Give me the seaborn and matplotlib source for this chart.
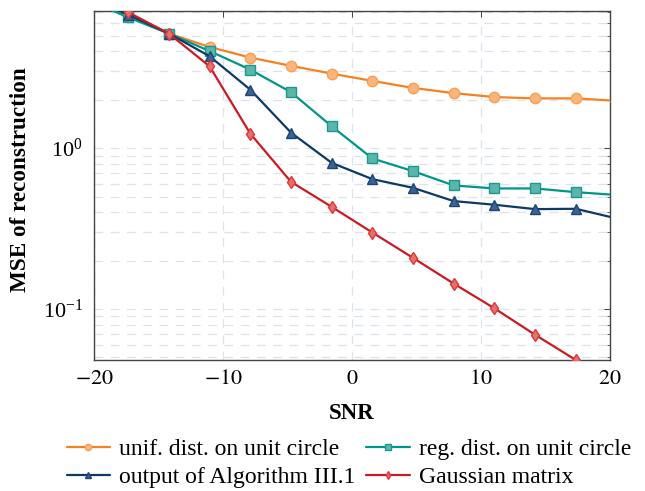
import numpy as np
import pandas as pd
import matplotlib
matplotlib.use("Agg")
import matplotlib.pyplot as plt
import matplotlib.ticker as mticker
import seaborn as sns

# ---- data ----
snr = [-20.5, -17.35, -14.19, -11.04, -7.88, -4.73, -1.58, 1.58, 4.73, 7.88, 11.04, 14.19, 17.35, 20.5]
unif_circle = [8.6, 6.7, 5.16, 4.26, 3.66, 3.25, 2.91, 2.62, 2.37, 2.20, 2.08, 2.04, 2.04, 1.97]
reg_circle = [8.4, 6.5, 5.16, 4.02, 3.08, 2.23, 1.37, 0.863, 0.72, 0.587, 0.562, 0.562, 0.533, 0.512]
algo_out = [8.6, 6.77, 5.16, 3.73, 2.31, 1.25, 0.811, 0.642, 0.567, 0.469, 0.445, 0.418, 0.420, 0.366]
gauss = [9.5, 7.0, 5.16, 3.23, 1.23, 0.618, 0.432, 0.299, 0.208, 0.144, 0.101, 0.0692, 0.0482, 0.033]
labels = ["unif. dist. on unit circle", "reg. dist. on unit circle",
          "output of Algorithm III.1", "Gaussian matrix"]
x_ticks = [-20, -10, 0, 10, 20]

df = pd.DataFrame({
    "SNR": snr * 4,
    "MSE": unif_circle + reg_circle + algo_out + gauss,
    "method": [lab for lab in labels for _ in snr],
})

styles = {
    labels[0]: dict(color="#F5821F", marker="o", mfc="#FBB57A", mec="#F5A05A", ms=7.5),
    labels[1]: dict(color="#00968A", marker="s", mfc="#5BB5AA", mec="#1A9A8C", ms=7),
    labels[2]: dict(color="#0D3A66", marker="^", mfc="#3B6391", mec="#1D4676", ms=7),
    labels[3]: dict(color="#CC1A24", marker="d", mfc="#E8706A", mec="#D83A3A", ms=6.5),
}

sns.set_style("white")
plt.rcParams["font.family"] = ["Liberation Serif", "DejaVu Serif"]
plt.rcParams["mathtext.fontset"] = "stix"
plt.rcParams["text.color"] = "black"
plt.rcParams["axes.labelcolor"] = "black"

fig = plt.figure(figsize=(6.45, 4.91), dpi=100)
ax = fig.add_axes([94 / 645, 1 - 360 / 491, 516 / 645, 349 / 491])

for lab in labels:
    st = styles[lab]
    sub = df[df["method"] == lab]
    sns.lineplot(data=sub, x="SNR", y="MSE", ax=ax, color=st["color"], lw=1.6,
                 marker=st["marker"], markerfacecolor=st["mfc"],
                 markeredgecolor=st["mec"], markeredgewidth=1.0,
                 markersize=st["ms"], label=lab, legend=False, zorder=3)

ax.set_yscale("log")
ax.set_xlim(-20, 20)
ax.set_ylim(0.0482, 7.13)
ax.set_xticks(x_ticks)
ax.xaxis.set_major_formatter(mticker.FuncFormatter(lambda v, p: f"${v:g}$"))
ax.yaxis.set_major_locator(mticker.LogLocator(base=10, numticks=10))
ax.yaxis.set_minor_locator(mticker.LogLocator(base=10, subs=np.arange(2, 10), numticks=20))
ax.yaxis.set_minor_formatter(mticker.NullFormatter())

gcol = "#DCE2EE"
ax.grid(True, which="major", axis="both", color=gcol, lw=0.9, ls=(0, (7, 6)), zorder=0)
ax.grid(True, which="minor", axis="y", color=gcol, lw=0.9, ls=(0, (7, 6)), zorder=0)
ax.set_axisbelow(True)

for sp in ax.spines.values():
    sp.set_color("#444444")
    sp.set_linewidth(1.0)

ax.tick_params(axis="both", which="both", direction="in", top=True, right=True,
               colors="#444444", labelcolor="black", labelsize=16)
ax.tick_params(which="major", length=4, width=0.7)
ax.tick_params(which="minor", length=2.2, width=0.6)
ax.tick_params(axis="x", which="major", pad=7)
ax.tick_params(axis="y", which="major", pad=8)

ax.set_xlabel("SNR", fontsize=16.5, fontweight="bold", color="black")
ax.set_ylabel("MSE of reconstruction", fontsize=16.7, fontweight="bold", color="black")
ax.xaxis.set_label_coords(0.5, -0.122)
ax.yaxis.set_label_coords(-0.122, 0.516)

handles, lbls = ax.get_legend_handles_labels()
order = [0, 2, 1, 3]
fig.legend([handles[i] for i in order], [lbls[i] for i in order],
           loc="center", bbox_to_anchor=(0.541, 0.056),
           ncol=2, frameon=False, fontsize=17, handlelength=1.85,
           handletextpad=0.38, columnspacing=0.45, labelspacing=0.28,
           markerscale=0.6, borderpad=0.1)

fig.savefig("out.png", dpi=100)
